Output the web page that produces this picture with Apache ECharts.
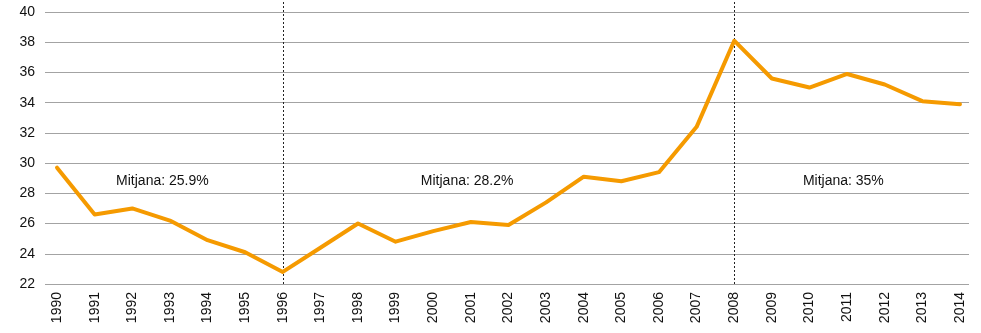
<!DOCTYPE html>
<html>
<head>
<meta charset="utf-8">
<script src="https://cdn.jsdelivr.net/npm/echarts@6/dist/echarts.min.js"></script>
<style>
  html, body { margin: 0; padding: 0; background: #fff; }
  #chart { width: 981px; height: 333px; }
</style>
</head>
<body>
<div id="chart"></div>
<script>
// Yearly series, 1990-2014 (percent)
const years = [1990, 1991, 1992, 1993, 1994, 1995, 1996, 1997, 1998, 1999, 2000, 2001, 2002,
               2003, 2004, 2005, 2006, 2007, 2008, 2009, 2010, 2011, 2012, 2013, 2014];
const values = [29.7, 26.6, 27.0, 26.2, 24.9, 24.1, 22.8, 24.4, 26.0, 24.8, 25.5, 26.1, 25.9,
                27.4, 29.1, 28.8, 29.4, 32.4, 38.1, 35.6, 35.0, 35.9, 35.2, 34.1, 33.9];

// Period breaks (dotted vertical lines)
const breakYears = [1996, 2008];

// Period averages, anchored in data coordinates
const avgLabels = ['Mitjana: 25.9%', 'Mitjana: 28.2%', 'Mitjana: 35%'];
const avgAnchorX = [1992.8, 2000.9, 2010.9];
const avgAnchorY = [28.8, 28.8, 28.8];

// Y-axis range and step
const yMin = 22, yMax = 40, yStep = 2;

const FONT = '"Liberation Sans", Arial, sans-serif';
const TEXT = '#111111';
const chart = echarts.init(document.getElementById('chart'), null, { renderer: 'canvas' });

const xRange = { min: 1989.68, max: 2014.24 };

chart.setOption({
  animation: false,
  backgroundColor: '#ffffff',
  grid: [
    { left: 45, right: 12, top: 12, bottom: 49 },
    { left: 45, right: 12, top: 0, bottom: 49 }
  ],
  xAxis: [
    {
      type: 'value', gridIndex: 0, min: xRange.min, max: xRange.max,
      axisLine: { show: false }, axisTick: { show: false }, splitLine: { show: false },
      axisLabel: {
        customValues: years, rotate: 90, margin: 8,
        color: TEXT, fontSize: 14, fontFamily: FONT,
        formatter: v => String(Math.round(v))
      }
    },
    {
      type: 'value', gridIndex: 1, min: xRange.min, max: xRange.max, show: false
    }
  ],
  yAxis: [
    {
      type: 'value', gridIndex: 0, min: yMin, max: yMax, interval: yStep,
      axisLine: { show: false }, axisTick: { show: false },
      axisLabel: { color: TEXT, fontSize: 14, fontFamily: FONT, margin: 10 },
      splitLine: { lineStyle: { color: '#a3a3a3', width: 1 } }
    },
    {
      type: 'value', gridIndex: 1, min: 0, max: 1, show: false
    }
  ],
  series: [
    {
      type: 'line', xAxisIndex: 1, yAxisIndex: 1,
      data: [], silent: true,
      markLine: {
        silent: true, symbol: 'none', label: { show: false },
        lineStyle: { color: '#222', type: [2, 2], width: 1, opacity: 1 },
        data: breakYears.map(y => ({ xAxis: y }))
      }
    },
    {
      type: 'line', xAxisIndex: 0, yAxisIndex: 0,
      data: years.map((y, i) => [y, values[i]]),
      symbol: 'none', smooth: false,
      lineStyle: { color: '#f59a00', width: 4, join: 'round', cap: 'round' },
      z: 5
    },
    {
      type: 'scatter', xAxisIndex: 0, yAxisIndex: 0,
      symbolSize: 0, silent: true,
      itemStyle: { opacity: 1 },
      data: avgLabels.map((t, i) => ({ value: [avgAnchorX[i], avgAnchorY[i]], name: t })),
      label: {
        show: true, position: 'inside', formatter: p => p.name, opacity: 1,
        color: TEXT, fontSize: 14, fontFamily: FONT, textBorderWidth: 0
      }
    }
  ]
});
</script>
</body>
</html>
